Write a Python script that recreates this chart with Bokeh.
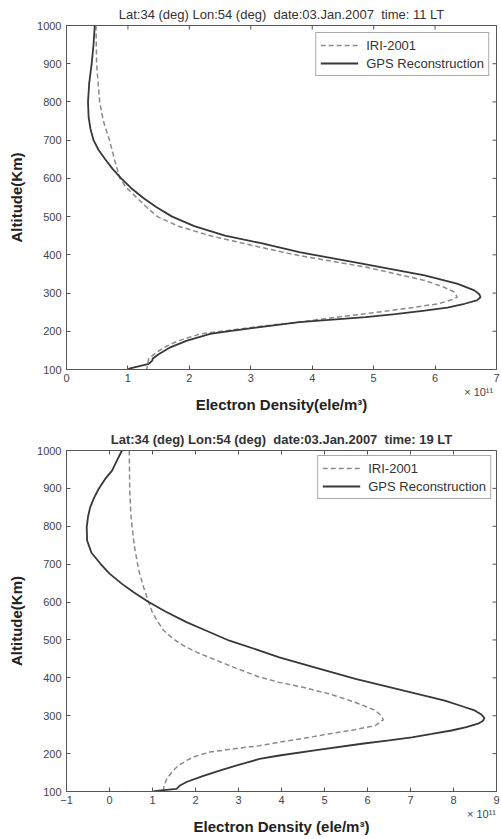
import math
from bokeh.plotting import figure
from bokeh.layouts import column
from bokeh.models import (Range1d, LinearAxis, Legend, LegendItem, FixedTicker,
                          CustomJSTickFormatter)
from bokeh.embed import file_html
from bokeh.resources import INLINE

# ---------------- data: 03 Jan 2007, 11 LT ----------------
iri11_alt = [1000, 900, 800, 750, 700, 650, 600, 575, 550, 525, 500, 475, 450, 420, 398, 368,
             333, 315, 302, 289, 281, 272, 260, 246, 235, 224, 213, 193, 175, 158, 140, 129,
             104, 100]
iri11_ne = [0.48, 0.49, 0.54, 0.60, 0.70, 0.78, 0.87, 0.98, 1.14, 1.30, 1.48, 1.82, 2.34, 3.15,
            3.79, 4.87, 5.83, 6.15, 6.32, 6.36, 6.25, 6.05, 5.55, 4.87, 4.30, 3.79, 3.15, 2.18,
            1.82, 1.59, 1.43, 1.34, 1.31, 1.30]
gps11_alt = [1000, 950, 900, 850, 800, 760, 730, 700, 675, 650, 625, 600, 575, 550, 525, 500,
             475, 450, 431, 407, 380, 346, 324, 307, 297, 289, 281, 272, 262, 254, 245, 237,
             224, 211, 200, 193, 175, 158, 140, 128, 124, 115, 102, 100]
gps11_ne = [0.46, 0.44, 0.41, 0.37, 0.35, 0.36, 0.39, 0.44, 0.52, 0.63, 0.75, 0.89, 1.05, 1.24,
            1.46, 1.72, 2.08, 2.58, 3.15, 3.79, 4.70, 5.83, 6.37, 6.64, 6.72, 6.74, 6.68, 6.48,
            6.20, 5.83, 5.35, 4.87, 3.79, 3.15, 2.62, 2.34, 1.95, 1.69, 1.50, 1.40, 1.40, 1.34,
            1.02, 1.00]

# ---------------- data: 03 Jan 2007, 19 LT ----------------
iri19_alt = [1000, 899, 825, 746, 684, 640, 600, 575, 552, 525, 503, 485, 468, 446, 425, 402,
             388, 375, 358, 336, 314, 300, 289, 274, 263, 252, 240, 230, 221, 212, 204, 193,
             182, 168, 155, 133, 115, 100]
iri19_ne = [0.46, 0.47, 0.50, 0.58, 0.68, 0.79, 0.91, 0.99, 1.10, 1.26, 1.48, 1.72, 2.02, 2.49,
            2.95, 3.49, 3.95, 4.50, 5.10, 5.70, 6.18, 6.32, 6.37, 6.18, 5.70, 5.10, 4.50, 3.95,
            3.49, 2.85, 2.33, 2.00, 1.79, 1.60, 1.48, 1.33, 1.27, 1.25]
gps19_alt = [1000, 975, 947, 925, 899, 875, 850, 825, 797, 762, 730, 701, 675, 648, 625, 600,
             575, 547, 523, 498, 472, 454, 425, 397, 370, 340, 325, 314, 303, 294, 286, 279,
             270, 261, 252, 243, 235, 226, 210, 195, 186, 170, 155, 140, 125, 116, 107, 103,
             100]
gps19_ne = [0.29, 0.18, 0.06, -0.10, -0.25, -0.36, -0.45, -0.50, -0.53, -0.52, -0.42, -0.21,
            0.00, 0.29, 0.57, 0.91, 1.30, 1.79, 2.28, 2.79, 3.49, 3.95, 4.85, 5.72, 6.70, 7.80,
            8.20, 8.49, 8.65, 8.72, 8.68, 8.57, 8.30, 7.95, 7.50, 7.03, 6.50, 5.87, 4.85, 3.95,
            3.49, 3.00, 2.56, 2.15, 1.79, 1.64, 1.56, 1.20, 1.02]

alt_ticks = [100, 200, 300, 400, 500, 600, 700, 800, 900, 1000]
x_ticks_11 = [0, 1, 2, 3, 4, 5, 6, 7]
x_ticks_19 = [-1, 0, 1, 2, 3, 4, 5, 6, 7, 8, 9]

title_11 = "Lat:34 (deg) Lon:54 (deg)\u00a0 date:03.Jan.2007\u00a0 time: 11 LT"
title_19 = "Lat:34 (deg) Lon:54 (deg)\u00a0 date:03.Jan.2007\u00a0 time: 19 LT"
xlabel_11 = "Electron Density(ele/m\u00b3)"
xlabel_19 = "Electron Density (ele/m\u00b3)"
ylabel = "Altitude(Km)"
sci_text = "\u00d7 10\u00b9\u00b9"
series_names = ["IRI-2001", "GPS Reconstruction"]

FONT = "Liberation Sans"
AX = "#555555"


def make(title, title_bold, xr, xticks, xlabel, sci_at, ia, ix, ga, gx, width, height,
         bl, br, bt, bb, leg_margin):
    p = figure(width=width, height=height, x_range=Range1d(*xr), y_range=Range1d(100, 1000),
               output_backend="svg", toolbar_location=None,
               min_border_left=bl, min_border_right=br, min_border_top=bt, min_border_bottom=bb,
               background_fill_color="white", border_fill_color="white")
    p.title.text = title
    p.title.align = "center"
    p.title.text_font = FONT
    p.title.text_font_size = "13px"
    p.title.text_font_style = "bold" if title_bold else "normal"
    p.title.text_color = "#333333"
    p.title.standoff = 7
    p.grid.visible = False
    p.outline_line_color = AX

    for ax in (p.xaxis[0], p.yaxis[0]):
        ax.axis_line_color = AX
        ax.major_tick_line_color = AX
        ax.major_tick_in = 4
        ax.major_tick_out = 0
        ax.minor_tick_in = 0
        ax.minor_tick_out = 0
        ax.major_label_text_font = FONT
        ax.major_label_text_font_size = "11px"
        ax.major_label_text_color = "#444444"
        ax.axis_label_text_font = FONT
        ax.axis_label_text_font_size = "15px"
        ax.axis_label_text_font_style = "bold"
        ax.axis_label_text_color = "#222222"
    p.xaxis[0].ticker = FixedTicker(ticks=xticks)
    p.yaxis[0].ticker = FixedTicker(ticks=alt_ticks)
    p.yaxis[0].axis_label = ylabel
    p.xaxis[0].major_label_standoff = 4
    p.yaxis[0].major_label_standoff = 5
    p.yaxis[0].axis_label_standoff = 9

    # second bottom axis: carries the "x 10^11" multiplier and the axis title
    ax2 = LinearAxis(ticker=FixedTicker(ticks=[sci_at]),
                     formatter=CustomJSTickFormatter(code="return '%s';" % sci_text),
                     axis_line_color=None, major_tick_line_color=None,
                     minor_tick_line_color=None, major_tick_in=0, major_tick_out=0,
                     major_label_standoff=1, major_label_text_font=FONT,
                     major_label_text_font_size="11px", major_label_text_color="#444444",
                     axis_label=xlabel, axis_label_standoff=-5, axis_label_text_font=FONT,
                     axis_label_text_font_size="15px", axis_label_text_font_style="bold",
                     axis_label_text_color="#222222")
    p.add_layout(ax2, "below")

    # tick marks on the top and right edges of the box (half clipped by the frame)
    p.scatter(xticks, [1000] * len(xticks), marker="dash", size=8, angle=math.pi / 2,
              line_color=AX, line_width=1)
    p.scatter([xr[1]] * len(alt_ticks), alt_ticks, marker="dash", size=8,
              line_color=AX, line_width=1)

    r_iri = p.line(ix, ia, line_color="#8a8a8a", line_width=1.5, line_dash="5 3")
    r_gps = p.line(gx, ga, line_color="#383838", line_width=1.8)

    leg = Legend(items=[LegendItem(label=series_names[0], renderers=[r_iri]),
                        LegendItem(label=series_names[1], renderers=[r_gps])],
                 location="top_right", margin=leg_margin, padding=4, spacing=2,
                 label_height=16, glyph_height=16, glyph_width=38, label_standoff=8,
                 label_text_font=FONT, label_text_font_size="13px",
                 label_text_color="#333333", border_line_color=AX, border_line_width=1,
                 background_fill_color="white", background_fill_alpha=1.0)
    p.add_layout(leg, "center")
    return p


p1 = make(title_11, False, (0, 7), x_ticks_11, xlabel_11, 6.71, iri11_alt, iri11_ne,
          gps11_alt, gps11_ne, 501, 420, 65, 2, 25, 51, 7)
p2 = make(title_19, True, (-1, 9), x_ticks_19, xlabel_19, 8.65, iri19_alt, iri19_ne,
          gps19_alt, gps19_ne, 501, 419, 66, 5, 30, 48, 5)

page = column(p1, p2, spacing=0)
open("out.html", "w").write(file_html(page, INLINE))
